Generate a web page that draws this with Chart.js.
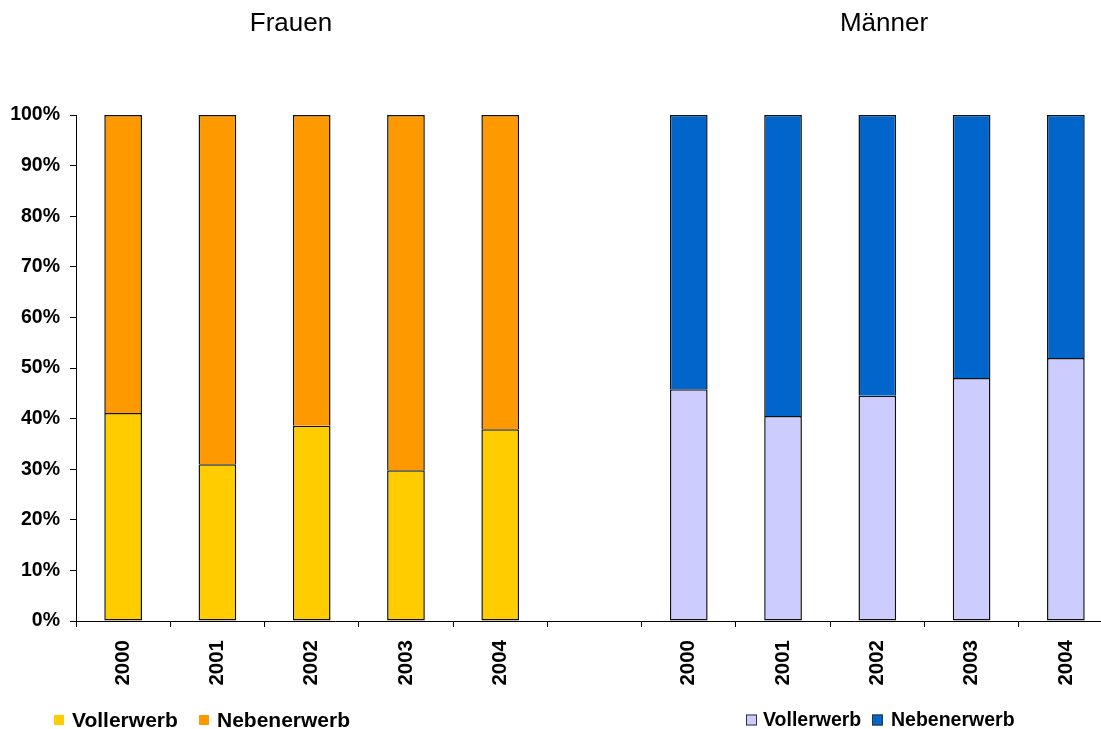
<!DOCTYPE html>
<html>
<head>
<meta charset="utf-8">
<script src="https://cdn.jsdelivr.net/npm/chart.js@4/dist/chart.umd.min.js"></script>
<style>
    html, body { margin: 0; padding: 0; background: #fff; overflow: hidden; }
    #wrap { width: 1101px; height: 729px; overflow: hidden; }
    canvas { display: block; }
</style>
</head>
<body>
<div id="wrap"><canvas id="chart" width="1120" height="729"></canvas></div>
<script>
    // Daten
    const years = ['2000', '2001', '2002', '2003', '2004'];
    const groups = ['Frauen', 'Männer'];
    const seriesNames = ['Vollerwerb', 'Nebenerwerb'];
    const frauenVoll = [41.1, 31.0, 38.6, 29.8, 37.9];
    const frauenNeben = [58.9, 69.0, 61.4, 70.2, 62.1];
    const maennerVoll = [45.8, 40.5, 44.5, 48.0, 52.0];
    const maennerNeben = [54.2, 59.5, 55.5, 52.0, 48.0];
    const yTicks = [0, 10, 20, 30, 40, 50, 60, 70, 80, 90, 100];

    const FONT = "'Liberation Sans', Arial, sans-serif";

    // 5 Jahre Frauen, eine leere Lücke, 5 Jahre Männer
    const labels = [...years, '', ...years];
    const gap = years.map(() => null);
    const left = (arr) => [...arr, null, ...gap];
    const right = (arr) => [...gap, null, ...arr];

    // Titel und zwei getrennte Legenden direkt auf das Canvas zeichnen
    const extraText = {
        id: 'extraText',
        afterDraw(chart) {
            const ctx = chart.ctx;
            ctx.save();
            ctx.fillStyle = '#000';
            ctx.font = '26px ' + FONT;
            ctx.textAlign = 'center';
            ctx.textBaseline = 'middle';
            ctx.fillText(groups[0], 291, 24);
            ctx.fillText(groups[1], 884, 24);

            const legends = [
                { items: [[0, 54, 72], [1, 199, 217]], size: 21, box: 10, stroke: false },
                { items: [[2, 746, 763], [3, 872, 891]], size: 19.5, box: 11, stroke: true }
            ];
            legends.forEach(lg => {
                lg.items.forEach(([ds, bx, tx]) => {
                    const d = chart.data.datasets[ds];
                    ctx.fillStyle = d.backgroundColor;
                    ctx.fillRect(bx, 720 - lg.box / 2, lg.box, lg.box);
                    if (lg.stroke) {
                        ctx.strokeStyle = '#333';
                        ctx.lineWidth = 1;
                        ctx.strokeRect(bx + 0.5, 720 - lg.box / 2 + 0.5, lg.box - 1, lg.box - 1);
                    }
                    ctx.fillStyle = '#000';
                    ctx.font = 'bold ' + lg.size + 'px ' + FONT;
                    ctx.textAlign = 'left';
                    ctx.fillText(d.label, tx, 721);
                });
            });
            ctx.restore();
        }
    };

    new Chart(document.getElementById('chart'), {
        type: 'bar',
        data: {
            labels: labels,
            datasets: [
                { label: seriesNames[0], data: left(frauenVoll), backgroundColor: '#FFCC00', borderSkipped: false },
                { label: seriesNames[1], data: left(frauenNeben), backgroundColor: '#FF9900', borderSkipped: 'bottom' },
                { label: seriesNames[0], data: right(maennerVoll), backgroundColor: '#CCCCFF', borderSkipped: false },
                { label: seriesNames[1], data: right(maennerNeben), backgroundColor: '#0066CC', borderSkipped: 'bottom' }
            ].map(d => Object.assign(d, {
                borderColor: '#111',
                borderWidth: 1.5,
                barPercentage: 0.40,
                categoryPercentage: 1.0,
                stack: 'a'
            }))
        },
        options: {
            responsive: false,
            animation: false,
            layout: { padding: { top: 115, right: 7, left: 0, bottom: 0 } },
            scales: {
                x: {
                    stacked: true,
                    offset: true,
                    afterFit: s => { s.height = 108; },
                    grid: {
                        offset: true,
                        drawOnChartArea: false,
                        drawTicks: true,
                        tickLength: 6,
                        color: '#000'
                    },
                    border: { display: true, color: '#000', width: 1 },
                    ticks: {
                        autoSkip: false,
                        maxRotation: 90,
                        minRotation: 90,
                        padding: 13,
                        color: '#000',
                        font: { family: FONT, size: 20.5, weight: 'bold' }
                    }
                },
                y: {
                    stacked: true,
                    min: 0,
                    max: 100,
                    afterFit: s => { s.width = 76; },
                    afterBuildTicks: s => { s.ticks = yTicks.map(v => ({ value: v })); },
                    grid: {
                        drawOnChartArea: false,
                        drawTicks: true,
                        tickLength: 6,
                        color: '#000'
                    },
                    border: { display: true, color: '#000', width: 1 },
                    ticks: {
                        padding: 10,
                        color: '#000',
                        callback: v => v + '%',
                        font: { family: FONT, size: 19.5, weight: 'bold' }
                    }
                }
            },
            plugins: {
                legend: { display: false },
                tooltip: { enabled: false }
            }
        },
        plugins: [extraText]
    });
</script>
</body>
</html>
